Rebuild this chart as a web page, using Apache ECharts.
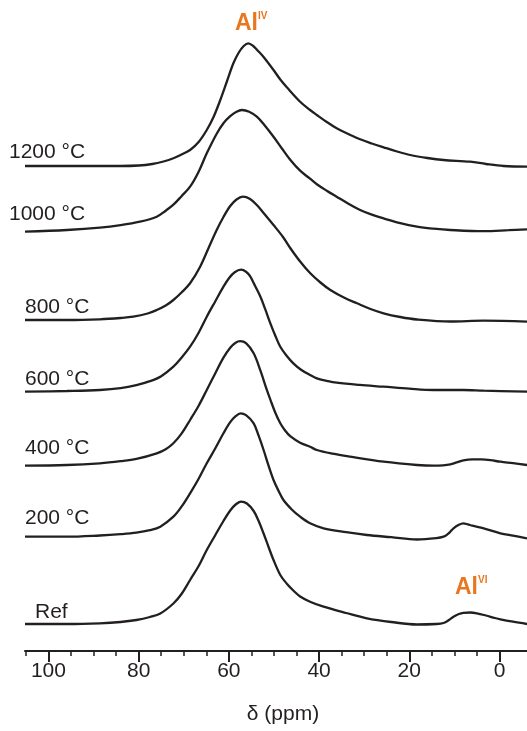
<!DOCTYPE html>
<html>
<head>
<meta charset="utf-8">
<script src="https://cdn.jsdelivr.net/npm/echarts@6/dist/echarts.min.js"></script>
<style>html,body{margin:0;padding:0;background:#fff;}#chart{width:527px;height:731px;}</style>
</head>
<body>
<div id="chart"></div>
<script>
// chemical shift (ppm), intensity above each trace's own baseline
const seriesNames = ['Ref', '200 °C', '400 °C', '600 °C', '800 °C', '1000 °C', '1200 °C'];
const offsets = [27, 114.3, 185.3, 259.3, 331, 419.3, 485];

const dataRef = [[105.2,0],[95.9,0],[88.6,0.7],[84,2],[80.5,4],[77.5,7],[75.2,10.5],[72.3,20.5],[70.5,30],[68.6,44],[66.7,58],[64.9,74],[63,89],[61.2,103],[59.7,113.5],[58.5,119.5],[57.3,122.3],[56,120.5],[54.5,113],[53.4,103],[52.3,90.5],[51.2,77],[50.1,64],[48.6,49],[47.1,40],[45.6,33],[44.2,27.5],[42,22.3],[39,17.3],[34,11],[29.4,5.7],[24,2],[18.3,-0.5],[14,0],[12.4,1],[11.2,4],[10.2,7.3],[9,10],[8,11.2],[6.5,11.5],[5,10.7],[3,8.5],[1,6],[-0.2,4.7],[-3,2.3],[-6.1,0]];
const data200 = [[105.2,0],[95.9,0],[88.6,1.2],[84,2.5],[80.5,4],[77.5,6.5],[75.2,10],[72.3,20],[70.5,30],[68.6,43.4],[66.7,58],[64.9,73.4],[63,88.5],[61.2,103.4],[59.7,114.5],[58.5,120.5],[57.4,123.4],[56.2,121.5],[54.5,113.4],[53.4,101],[52.3,86.7],[51.2,71],[50.1,56.7],[49,46],[47.9,36.7],[46,27],[44.2,20],[42,13.4],[39,8.4],[34,4.5],[29.4,1.7],[24,-0.5],[18.3,-2.8],[14,-1.5],[12.4,0],[11.5,2.5],[10.9,5],[10.2,8.4],[9,12],[8,13.4],[7,12.3],[6,11],[3.5,8.4],[-0.2,3.4],[-3,1],[-6.1,-1.6]];
const data400 = [[105.2,0],[95.9,0.7],[88.6,2.4],[84,4.5],[80.5,6.8],[76,12.4],[74,16.5],[72.3,22.4],[70.5,32],[68.6,45.7],[66.7,60],[64.9,75.7],[63,92.5],[61.2,108],[59.7,118],[58.5,123],[57.5,124.5],[56.2,122.5],[54.5,112.4],[53,95],[51.6,76],[50.8,66],[49.7,53],[48.6,42.5],[47.5,35],[46.4,29.5],[44.2,23],[42,19],[40.5,15.7],[37,12],[33.1,9],[25.7,4],[18.3,0.7],[14.6,0],[12.5,0.4],[10.9,1.4],[9.5,3.3],[8,5.4],[6,6.4],[4,6.3],[2,5.5],[-0.2,4],[-3,2.5],[-6.1,0.7]];
const data600 = [[105.2,0],[95.9,0.7],[88.6,1.7],[84,3.5],[80.5,6.5],[77.5,10.5],[75,15.5],[72.3,25],[70.5,34],[68.6,45],[66.7,59],[64.9,75],[63,90.5],[61.2,105],[59.9,114],[58.7,119.5],[57.3,122],[56.2,120],[55.3,115.5],[54.2,106],[53,95],[51.9,82],[50.8,68.4],[49.7,56],[48.6,45],[47.2,36],[45.7,28.4],[44,22],[42,16.7],[40.5,13.4],[38,10.5],[36.1,9],[31,6.8],[25.7,5],[20,3],[14.6,1.7],[8,1.7],[3.5,1],[-6.1,0]];
const data800 = [[105.2,0],[95.9,0],[88.6,0.7],[84,2],[81.2,3.3],[78,6.5],[76,10],[74,14.5],[72.3,20],[70.5,27.5],[68.6,36.7],[66.4,53],[64.5,72],[62.7,90],[61.2,103],[59.7,114],[58.3,120.5],[56.9,123.3],[55.3,121],[53.8,115],[52.3,107],[50.1,95],[48,83],[46.4,72],[44.2,58.5],[42,47],[39.7,37.5],[37.5,30],[34.5,22.5],[31.6,16.7],[28.6,11],[25.7,6.7],[22,3],[18.3,0.5],[10.9,-1.5],[3.5,-0.7],[-6.1,-1.7]];
const data1000 = [[105.2,0],[95.9,1.7],[88.6,4],[84,6.5],[79.7,10],[76,15],[74,21],[72.3,27],[70.5,35.5],[68.6,45],[66.7,60],[64.9,78.4],[62.7,98],[61.2,108.5],[59.7,115.5],[58.3,120],[57.1,121.7],[55.5,120],[53.8,115],[52,106],[50.1,95],[48.2,83],[46.4,72],[44.2,61],[42,53],[40.5,47.5],[38.3,41],[36.1,35],[33.5,28],[30.9,21.7],[28.3,17],[25.7,13.4],[22,8.5],[18.3,5],[14.6,3],[10.9,1.7],[3.5,0.5],[-2,1.5],[-6.1,2.4]];
const data1200 = [[105.2,0],[95.9,0],[88.6,0],[84,0],[80,0.5],[77,2],[74.5,4.5],[72.3,7.7],[70.5,11.5],[68.6,16],[66.7,24],[64.9,36],[63.4,49],[61.9,66],[60.4,85],[59,102.7],[57.8,113.5],[56.7,120],[55.7,122.7],[54.6,120],[53.4,114.5],[52.3,109],[50.1,96],[48.6,86.5],[47.1,78.5],[44.2,64.3],[42,56],[40.5,51],[38.3,44],[36.1,37.7],[33.5,32],[30.9,26.7],[28.3,22.5],[25.7,18.7],[22.7,14.5],[19.8,11],[16,8],[12.4,6],[6.5,4.3],[3,2],[-0.9,0],[-6.1,-0.7]];
const allData = [dataRef, data200, data400, data600, data800, data1000, data1200];

const majorTicks = [0, 20, 40, 60, 80, 100];
const minorTicks = [5, 10, 15, 25, 30, 35, 45, 50, 55, 65, 70, 75, 85, 90, 95, 105];

const ink = '#231f20';
const orange = '#e8771f';
const font = "'Liberation Sans', Arial, sans-serif";

const chart = echarts.init(document.getElementById('chart'));

const series = allData.map((d, i) => ({
  name: seriesNames[i],
  type: 'line',
  xAxisIndex: 0,
  data: d.map(p => [p[0], p[1] + offsets[i]]),
  showSymbol: false,
  smooth: 0.35,
  lineStyle: { color: ink, width: 2.3 },
  animation: false,
  silent: true
}));

const labelPos = [
  { t: 'Ref', x: 35, y: 613 },
  { t: '200 °C', x: 25, y: 519 },
  { t: '400 °C', x: 25, y: 449 },
  { t: '600 °C', x: 25, y: 380 },
  { t: '800 °C', x: 25, y: 308 },
  { t: '1000 °C', x: 9, y: 215 },
  { t: '1200 °C', x: 9, y: 153 }
];

const graphics = labelPos.map(l => ({
  type: 'text', left: l.x, top: l.y - 11,
  style: { text: l.t, fill: ink, font: '21px ' + font }
}));
graphics.push(
  { type: 'text', left: 235, top: 12, style: { text: 'Al', fill: orange, font: 'bold 23px ' + font } },
  { type: 'text', left: 258, top: 11, style: { text: 'IV', fill: orange, font: 'bold 10px ' + font } },
  { type: 'text', left: 455, top: 576, style: { text: 'Al', fill: orange, font: 'bold 23px ' + font } },
  { type: 'text', left: 478, top: 575, style: { text: 'VI', fill: orange, font: 'bold 10px ' + font } }
);

const option = {
  animation: false,
  backgroundColor: '#fff',
  grid: { left: 25, right: 0, top: 0, bottom: 80, containLabel: false },
  xAxis: [
    {
      type: 'value', min: -6.1, max: 105.2, inverse: true,
      axisLine: { show: true, lineStyle: { color: ink, width: 2 } },
      axisTick: { show: true, customValues: majorTicks, length: 11, lineStyle: { color: ink, width: 2 } },
      axisLabel: { show: true, customValues: majorTicks, margin: 10, color: ink, fontSize: 21, fontFamily: font },
      splitLine: { show: false },
      name: 'δ (ppm)', nameLocation: 'middle', nameGap: 53,
      nameTextStyle: { color: ink, fontSize: 21, fontFamily: font, padding: [0, 0, 0, 14] }
    },
    {
      type: 'value', min: -6.1, max: 105.2, inverse: true, position: 'bottom',
      axisLine: { show: false },
      axisTick: { show: true, customValues: minorTicks, length: 5, lineStyle: { color: ink, width: 1.5 } },
      axisLabel: { show: false },
      splitLine: { show: false }
    }
  ],
  yAxis: { type: 'value', min: 0, max: 651, show: false },
  series: series,
  graphic: graphics
};
chart.setOption(option);
</script>
</body>
</html>
